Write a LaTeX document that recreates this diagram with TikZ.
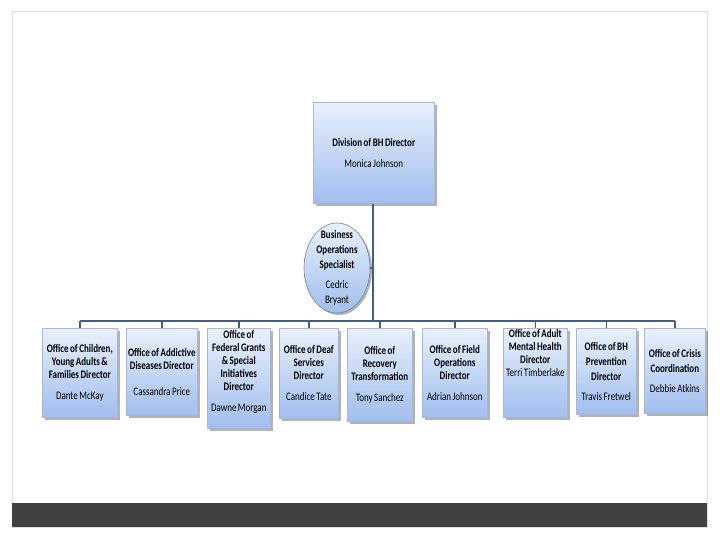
\documentclass[tikz,border=0pt]{standalone}
\usepackage{fontspec}
\setmainfont{Carlito}[FakeStretch=0.78,WordSpace=0.75]
\usetikzlibrary{shapes.geometric,shadows}
\definecolor{linec}{RGB}{66,94,126}
\definecolor{boxtop}{RGB}{232,240,252}
\definecolor{boxbot}{RGB}{160,190,238}
\definecolor{boxedge}{RGB}{170,184,206}
\definecolor{barc}{RGB}{65,65,66}
\definecolor{framec}{RGB}{225,225,225}
\tikzset{
  orgbox/.style={draw=boxedge, line width=0.6pt, top color=boxtop, bottom color=boxbot,
    anchor=north west, align=center, inner sep=0pt,
    font=\fontsize{11.5}{13}\selectfont\bfseries,
    drop shadow={shadow xshift=2.5pt, shadow yshift=-2.5pt, fill=black, opacity=0.3}},
  loose/.style={font=\fontsize{11.5}{15}\selectfont\bfseries},
  conn/.style={draw=linec, line width=1.4pt},
}
\newcommand{\gapname}[1]{\\[8pt]\mdseries #1}
\begin{document}
\begin{tikzpicture}[x=1pt,y=-1pt]
\useasboundingbox (0,0) rectangle (720,540);
\fill[white] (0,0) rectangle (720,540);
\draw[framec, line width=1pt] (12,12) rectangle (707,527);
\fill[barc] (12,503) rectangle (707,527);

% top box
\node[orgbox, minimum width=121pt, minimum height=101pt] (dir) at (313,102)
  {Division of BH Director\\[8pt]\mdseries Monica Johnson};

% ellipse
\node[ellipse, draw=boxedge!70!black, line width=0.6pt, top color=boxtop, bottom color=boxbot,
  minimum width=66pt, minimum height=90pt, inner sep=0pt,
  drop shadow={shadow xshift=2pt, shadow yshift=-2pt, fill=black, opacity=0.3}] (bos) at (337,268) {};
\node[align=center, inner sep=0pt, font=\fontsize{11.5}{15}\selectfont\bfseries] (bost) at (bos.center)
  {Business\\Operations\\Specialist\\[5pt]\mdseries Cedric\\\mdseries Bryant};

% bottom boxes
\node[orgbox, minimum width=75pt, minimum height=89pt] (b1) at (42,328)
  {Office of Children,\\Young Adults \&\\Families Director\gapname{Dante McKay}};
\node[orgbox, minimum width=71pt, minimum height=87pt] (b2) at (126,328)
  {Office of Addictive\\Diseases Director\\[13pt]\mdseries Cassandra Price};
\node[orgbox, minimum width=63pt, minimum height=100pt] (b3) at (207,328)
  {Office of\\Federal Grants\\\& Special\\Initiatives\\Director\gapname{Dawne Morgan}\\[1pt]\mbox{}};
\node[orgbox, minimum width=59pt, minimum height=90pt] (b4) at (279,328)
  {Office of Deaf\\Services\\Director\gapname{Candice Tate}};
\node[orgbox, minimum width=65pt, minimum height=93pt] (b5) at (347,328)
  {Office of\\Recovery\\Transformation\gapname{Tony Sanchez}};
\node[orgbox, minimum width=65pt, minimum height=89pt] (b6) at (422,328)
  {Office of Field\\Operations\\Director\gapname{Adrian Johnson}};
\node[orgbox, minimum width=64pt, minimum height=89pt] (b7) at (503,328)
  {Office of Adult\\Mental Health\\Director\\\mdseries Terri Timberlake\\[27pt]\mbox{}};
\node[orgbox, loose, minimum width=60pt, minimum height=86pt] (b8) at (576,328)
  {Office of BH\\Prevention\\Director\\[5pt]\mdseries Travis Fretwel};
\node[orgbox, loose, minimum width=61pt, minimum height=85pt] (b9) at (644,328)
  {Office of Crisis\\Coordination\\[5pt]\mdseries Debbie Atkins};

% connectors
\coordinate (bus) at (373,321);
\draw[conn] (dir.south -| bus) -- (bus);
\draw[conn] (bos.east) -- (bos.east -| bus);
\draw[conn] (b1.north |- bus) -- (b9.north |- bus);
\foreach \b in {b1,b2,b3,b4,b5,b6,b7,b8,b9}
  \draw[conn] (\b.north |- bus) -- (\b.north);
\end{tikzpicture}
\end{document}
